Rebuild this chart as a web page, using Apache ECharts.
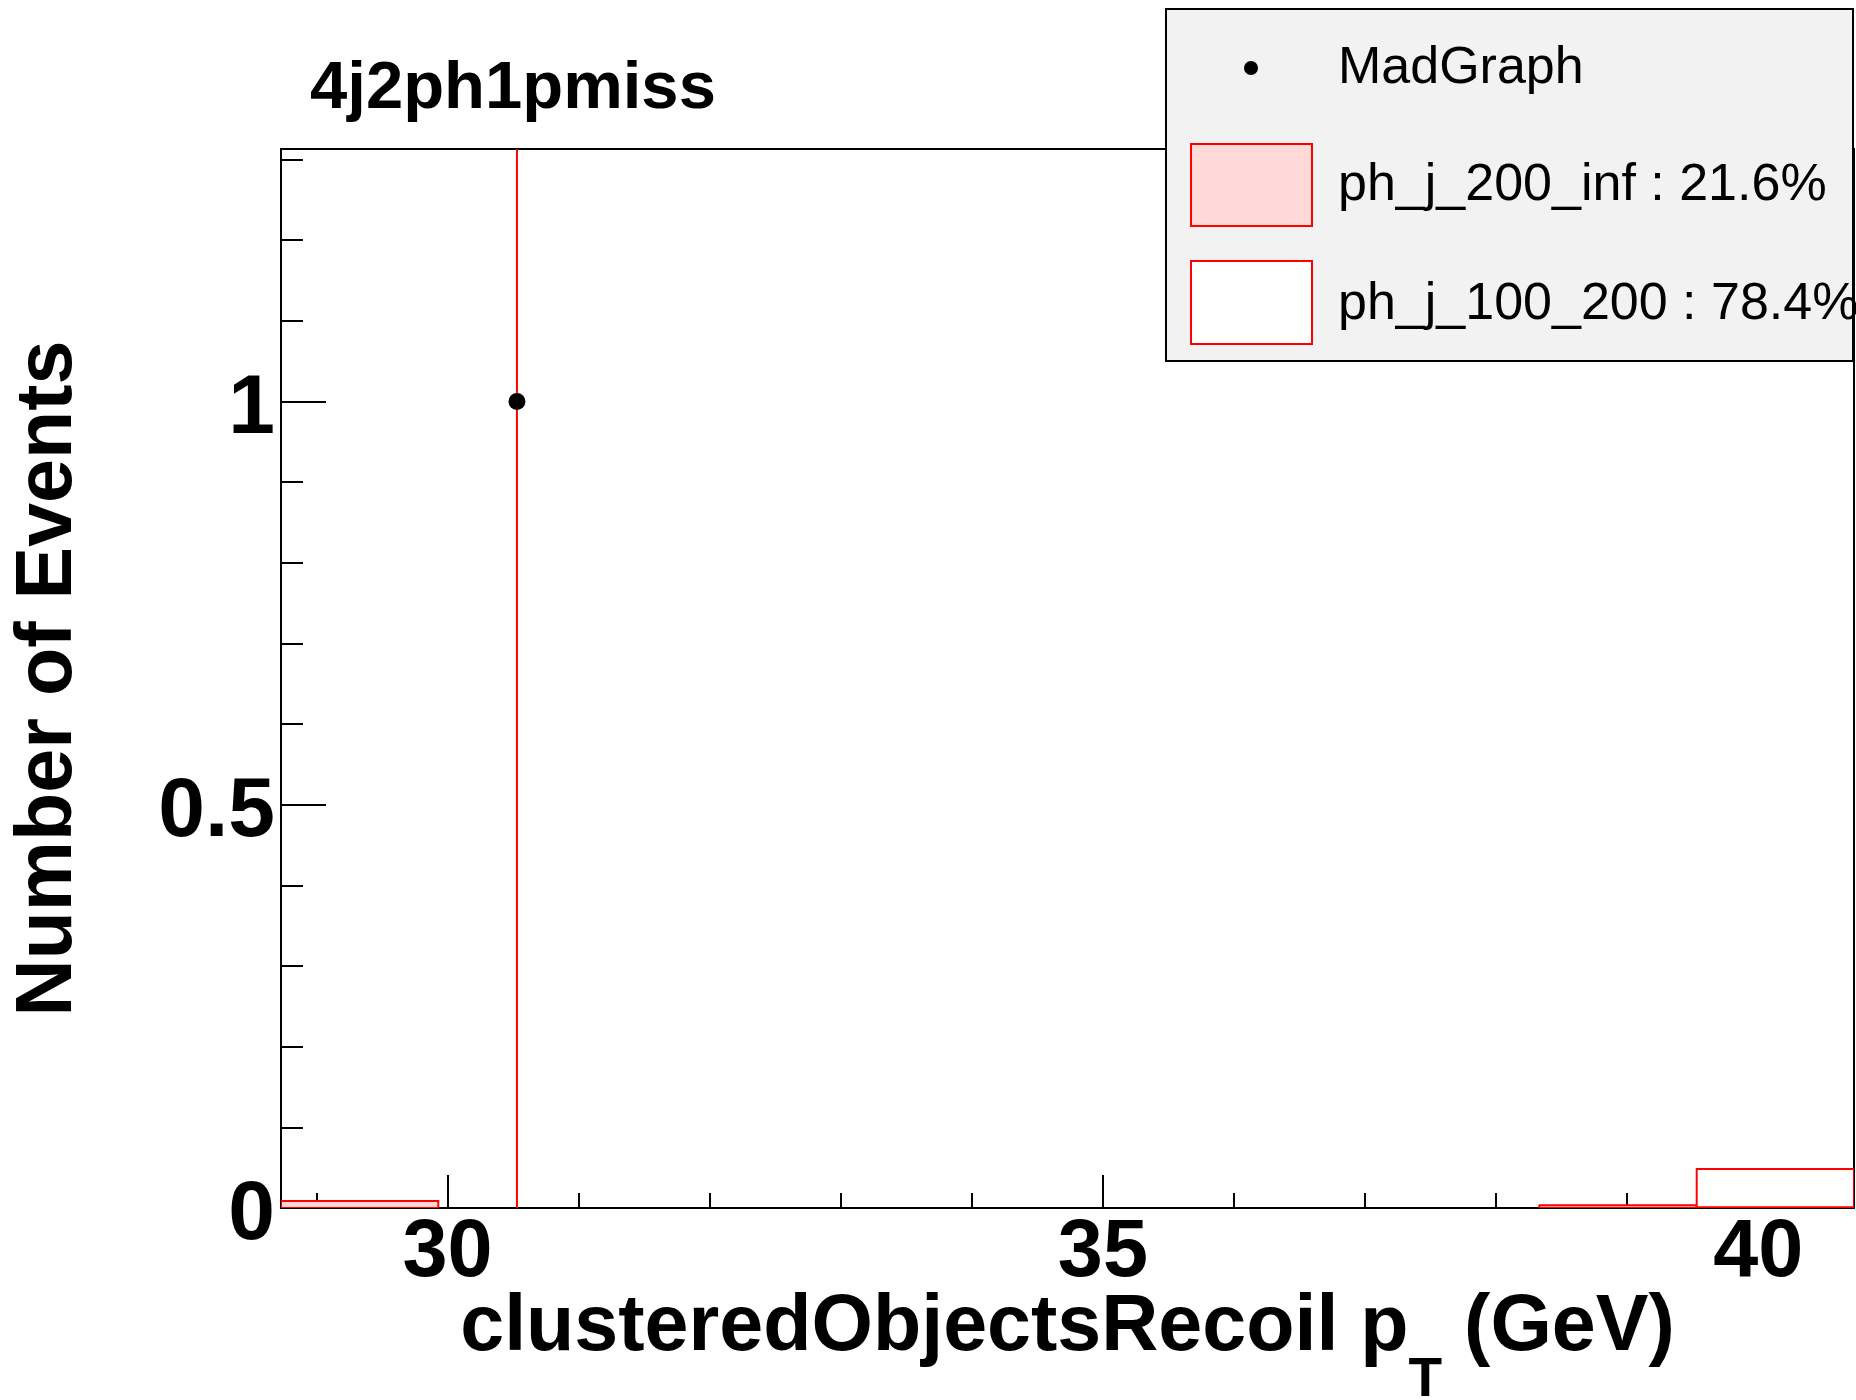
<!DOCTYPE html>
<html>
<head>
<meta charset="utf-8">
<script src="https://cdn.jsdelivr.net/npm/echarts@6/dist/echarts.min.js"></script>
<style>
html,body{margin:0;padding:0;background:#fff;}
#chart{width:1856px;height:1400px;}
</style>
</head>
<body>
<div id="chart"></div>
<script>
// ---- data ----
const chartTitle = '4j2ph1pmiss';
const binEdges = [28.73, 29.93, 31.13, 32.33, 33.53, 34.73, 35.93, 37.13, 38.33, 39.53, 40.73];
const ph_j_200_inf = [0.0087, 0, 0, 0, 0, 0, 0, 0, 0.0034, 0.001];
const ph_j_100_200 = [0, 0, 0, 0, 0, 0, 0, 0, 0, 0.0474];
const madgraphX = [30.53];
const madgraphY = [1];
const madgraphErr = [1];
const yMax = 1.313;
const legendLabels = ['MadGraph', 'ph_j_200_inf : 21.6%', 'ph_j_100_200 : 78.4%'];

const FONT = '"Liberation Sans", Arial, Helvetica, sans-serif';
const RED = '#ff0000';
const PINK = '#ffd8d8';

// stacked bins: [lo, hi, base, top]
function stackBins(vals, baseArr) {
  const out = [];
  for (let i = 0; i < vals.length; i++) {
    const b = baseArr ? baseArr[i] : 0;
    out.push([binEdges[i], binEdges[i + 1], b, b + vals[i]]);
  }
  return out;
}
const pinkBins = stackBins(ph_j_200_inf, null);
const whiteBins = stackBins(ph_j_100_200, ph_j_200_inf);

function histRender(fill) {
  return function (params, api) {
    const lo = api.value(0), hi = api.value(1), base = api.value(2), top = api.value(3);
    if (top - base <= 0) return null;
    const p1 = api.coord([lo, top]);
    const p2 = api.coord([hi, base]);
    return {
      type: 'rect',
      shape: { x: p1[0], y: p1[1], width: p2[0] - p1[0], height: p2[1] - p1[1] },
      style: { fill: fill, stroke: RED, lineWidth: 2 }
    };
  };
}

const errData = madgraphX.map((x, i) => [x, madgraphY[i], madgraphErr[i]]);
const pointData = madgraphX.map((x, i) => [x, madgraphY[i]]);

const chart = echarts.init(document.getElementById('chart'), null, { renderer: 'canvas' });

const option = {
  backgroundColor: '#fff',
  animation: false,
  title: {
    text: chartTitle,
    left: 310, top: 56, padding: 0,
    textStyle: { fontSize: 67, fontWeight: 'bold', fontFamily: FONT, color: '#000' }
  },
  grid: {
    left: 281, top: 149, right: 2, bottom: 192,
    containLabel: false, outerBoundsMode: 'none',
    show: true, borderColor: '#000', borderWidth: 2, backgroundColor: 'transparent'
  },
  xAxis: {
    type: 'value',
    min: binEdges[0], max: binEdges[binEdges.length - 1],
    splitNumber: 2,
    axisLine: { show: true, onZero: false, lineStyle: { color: '#000', width: 2 } },
    axisTick: { show: true, inside: true, length: 33, lineStyle: { color: '#000', width: 2 } },
    minorTick: { show: true, splitNumber: 5, length: 15, lineStyle: { color: '#000', width: 2 } },
    splitLine: { show: false },
    minorSplitLine: { show: false },
    axisLabel: { showMinLabel: false, showMaxLabel: false, fontSize: 81, fontWeight: 'bold', fontFamily: FONT, color: '#000', margin: 5 },
    name: '{m|clusteredObjectsRecoil p}{s|T}{m| (GeV)}',
    nameLocation: 'middle',
    nameGap: 81,
    nameMoveOverlap: false,
    nameTextStyle: {
      color: '#000', fontSize: 79, fontWeight: 'bold', fontFamily: FONT,
      rich: {
        m: { fontSize: 79, fontWeight: 'bold', fontFamily: FONT, color: '#000', padding: [0, 0, 40, 0], verticalAlign: 'bottom' },
        s: { fontSize: 55, fontWeight: 'bold', fontFamily: FONT, color: '#000', verticalAlign: 'bottom' }
      }
    }
  },
  yAxis: {
    type: 'value',
    min: 0, max: yMax, interval: 0.5,
    axisLine: { show: true, onZero: false, lineStyle: { color: '#000', width: 2 } },
    axisTick: { show: true, inside: true, length: 45, lineStyle: { color: '#000', width: 2 } },
    minorTick: { show: true, splitNumber: 5, length: 22, lineStyle: { color: '#000', width: 2 } },
    splitLine: { show: false },
    minorSplitLine: { show: false },
    axisLabel: {
      showMaxLabel: false, fontSize: 84, fontWeight: 'bold', fontFamily: FONT, color: '#000', margin: 6,
      formatter: '{v|{value}}',
      rich: { v: { fontSize: 84, fontWeight: 'bold', fontFamily: FONT, color: '#000', padding: [16, 0, 0, 0] } }
    },
    name: 'Number of Events',
    nameLocation: 'middle',
    nameGap: 192,
    nameMoveOverlap: false,
    nameTextStyle: { color: '#000', fontSize: 79, fontWeight: 'bold', fontFamily: FONT }
  },
  series: [
    {
      name: 'ph_j_200_inf', type: 'custom', clip: true, z: 2,
      renderItem: histRender(PINK),
      encode: { x: [0, 1], y: [2, 3] },
      data: pinkBins
    },
    {
      name: 'ph_j_100_200', type: 'custom', clip: true, z: 2,
      renderItem: histRender('#ffffff'),
      encode: { x: [0, 1], y: [2, 3] },
      data: whiteBins
    },
    {
      name: 'MadGraph error', type: 'custom', clip: true, z: 3,
      renderItem: function (params, api) {
        const x = api.value(0), y = api.value(1), e = api.value(2);
        const a = api.coord([x, y - e]);
        const b = api.coord([x, y + e]);
        return { type: 'line', shape: { x1: a[0], y1: a[1], x2: b[0], y2: b[1] }, style: { stroke: RED, lineWidth: 2 } };
      },
      encode: { x: 0, y: 1 },
      data: errData
    },
    {
      name: 'MadGraph', type: 'scatter', z: 4,
      symbol: 'circle', symbolSize: 17,
      itemStyle: { color: '#000', opacity: 1 },
      data: pointData
    }
  ],
  graphic: [
    { type: 'rect', z: 100, shape: { x: 1166, y: 9, width: 687, height: 352 }, style: { fill: '#f2f2f2', stroke: '#000', lineWidth: 2 } },
    { type: 'circle', z: 101, shape: { cx: 1251, cy: 68, r: 7 }, style: { fill: '#000' } },
    { type: 'text', z: 101, x: 1338, y: 69, style: { text: legendLabels[0], fontSize: 52, fontFamily: FONT, fill: '#000', verticalAlign: 'middle' } },
    { type: 'rect', z: 101, shape: { x: 1191, y: 144, width: 121, height: 82 }, style: { fill: PINK, stroke: RED, lineWidth: 2 } },
    { type: 'text', z: 101, x: 1338, y: 186, style: { text: legendLabels[1], fontSize: 52, fontFamily: FONT, fill: '#000', verticalAlign: 'middle' } },
    { type: 'rect', z: 101, shape: { x: 1191, y: 261, width: 121, height: 83 }, style: { fill: '#ffffff', stroke: RED, lineWidth: 2 } },
    { type: 'text', z: 101, x: 1338, y: 305, style: { text: legendLabels[2], fontSize: 52, fontFamily: FONT, fill: '#000', verticalAlign: 'middle' } }
  ]
};
chart.setOption(option);
</script>
</body>
</html>
